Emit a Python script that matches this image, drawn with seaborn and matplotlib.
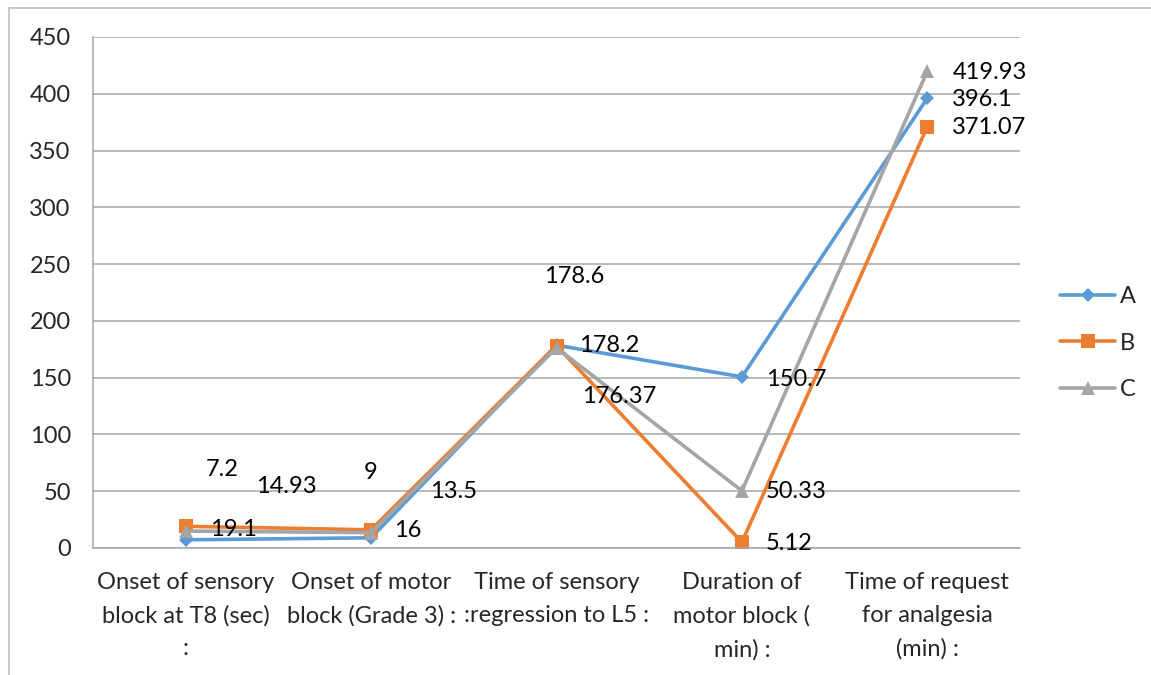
import pandas as pd
import numpy as np
import matplotlib
matplotlib.use('Agg')
import matplotlib.pyplot as plt
from matplotlib.lines import Line2D
import seaborn as sns

# data
categories = ['Onset of sensory\nblock at T8 (sec)\n:',
              'Onset of motor\nblock (Grade 3) :',
              'Time of sensory\n:regression to L5 :',
              'Duration of\nmotor block (\nmin) :',
              'Time of request\nfor analgesia\n(min) :']
values_a = [7.2, 9, 178.6, 150.7, 396.1]
values_b = [19.1, 16, 178.2, 5.12, 371.07]
values_c = [14.93, 13.5, 176.37, 50.33, 419.93]
labels_a = ['7.2', '9', '178.6', '150.7', '396.1']
labels_b = ['19.1', '16', '178.2', '5.12', '371.07']
labels_c = ['14.93', '13.5', '176.37', '50.33', '419.93']
y_ticks = [0, 50, 100, 150, 200, 250, 300, 350, 400, 450]

colors = {'A': '#5B9BD5', 'B': '#ED7D31', 'C': '#A5A5A5'}
markers = {'A': 'D', 'B': 's', 'C': '^'}
msizes = {'A': 7.5, 'B': 10, 'C': 10}

# data label offsets in pixels (left edge, vertical centre)
offs = {
    'A': [(20, 70), (-7, 65), (-12, 69), (24, -3), (25, -1)],
    'B': [(24, -3), (23, -1), (23, 0), (24, -1), (25, -1)],
    'C': [(70, 45), (59, 41), (26, -49), (24, -1), (25, -1)],
}

rows = []
for g, vals, labs in [('A', values_a, labels_a), ('B', values_b, labels_b), ('C', values_c, labels_c)]:
    for i, (v, l) in enumerate(zip(vals, labs)):
        rows.append({'pos': i, 'value': v, 'group': g, 'label': l})
df = pd.DataFrame(rows)

sns.set_style('white')
plt.rcParams['font.family'] = ['Lato', 'DejaVu Sans']
fs = 17

fig = plt.figure(figsize=(11.51, 6.75), dpi=100)
ax = fig.add_axes([93 / 1151, 1 - 548 / 675, (1020 - 93) / 1151, (548 - 37) / 675])

sns.lineplot(data=df, x='pos', y='value', hue='group', style='group',
             palette=colors, markers=markers, dashes=False,
             markersize=10, linewidth=2.6, markeredgewidth=0, ax=ax, legend=False)
for line, g in zip(ax.get_lines(), ['A', 'B', 'C']):
    line.set_markersize(msizes[g])

for g in ['A', 'B', 'C']:
    sub = df[df['group'] == g].reset_index(drop=True)
    for i, r in sub.iterrows():
        ax.annotate(r['label'], (r['pos'], r['value']), xytext=offs[g][i],
                    textcoords='offset pixels', ha='left', va='center',
                    fontsize=fs, color='#000000')

ax.set_xlim(-0.5, 4.5)
ax.set_ylim(0, 450)
ax.set_yticks(y_ticks)
ax.set_yticklabels([str(t) for t in y_ticks], fontsize=fs)
ax.set_xticks(range(len(categories)))
ax.set_xticklabels(categories, fontsize=fs, linespacing=1.7)
ax.tick_params(axis='y', length=0, pad=16)
ax.tick_params(axis='x', length=0, pad=17)
ax.set_xlabel('')
ax.set_ylabel('')
ax.grid(axis='y', color='#A6A6A6', linewidth=1.1)
ax.set_axisbelow(True)
for s in ['top', 'right']:
    ax.spines[s].set_visible(False)
for s in ['left', 'bottom']:
    ax.spines[s].set_color('#A6A6A6')
    ax.spines[s].set_linewidth(1.1)

handles = [Line2D([], [], color=colors[g], marker=markers[g], markersize=msizes[g],
                  markeredgewidth=0, linewidth=2.6) for g in ['A', 'B', 'C']]
fig.legend(handles, ['A', 'B', 'C'], loc='center left',
           bbox_to_anchor=(1060 / 1151, 1 - 343 / 675), frameon=False,
           fontsize=fs, handlelength=2.35, handletextpad=0.2,
           labelspacing=1.07, borderpad=0, borderaxespad=0)

# outer chart border (only top and left visible)
fig.add_artist(Line2D([9 / 1151, 9 / 1151], [0, 1 - 8 / 675], color='#BFBFBF', lw=1.2))
fig.add_artist(Line2D([9 / 1151, 1], [1 - 8 / 675, 1 - 8 / 675], color='#BFBFBF', lw=1.2))

fig.savefig('out.png', dpi=100)
